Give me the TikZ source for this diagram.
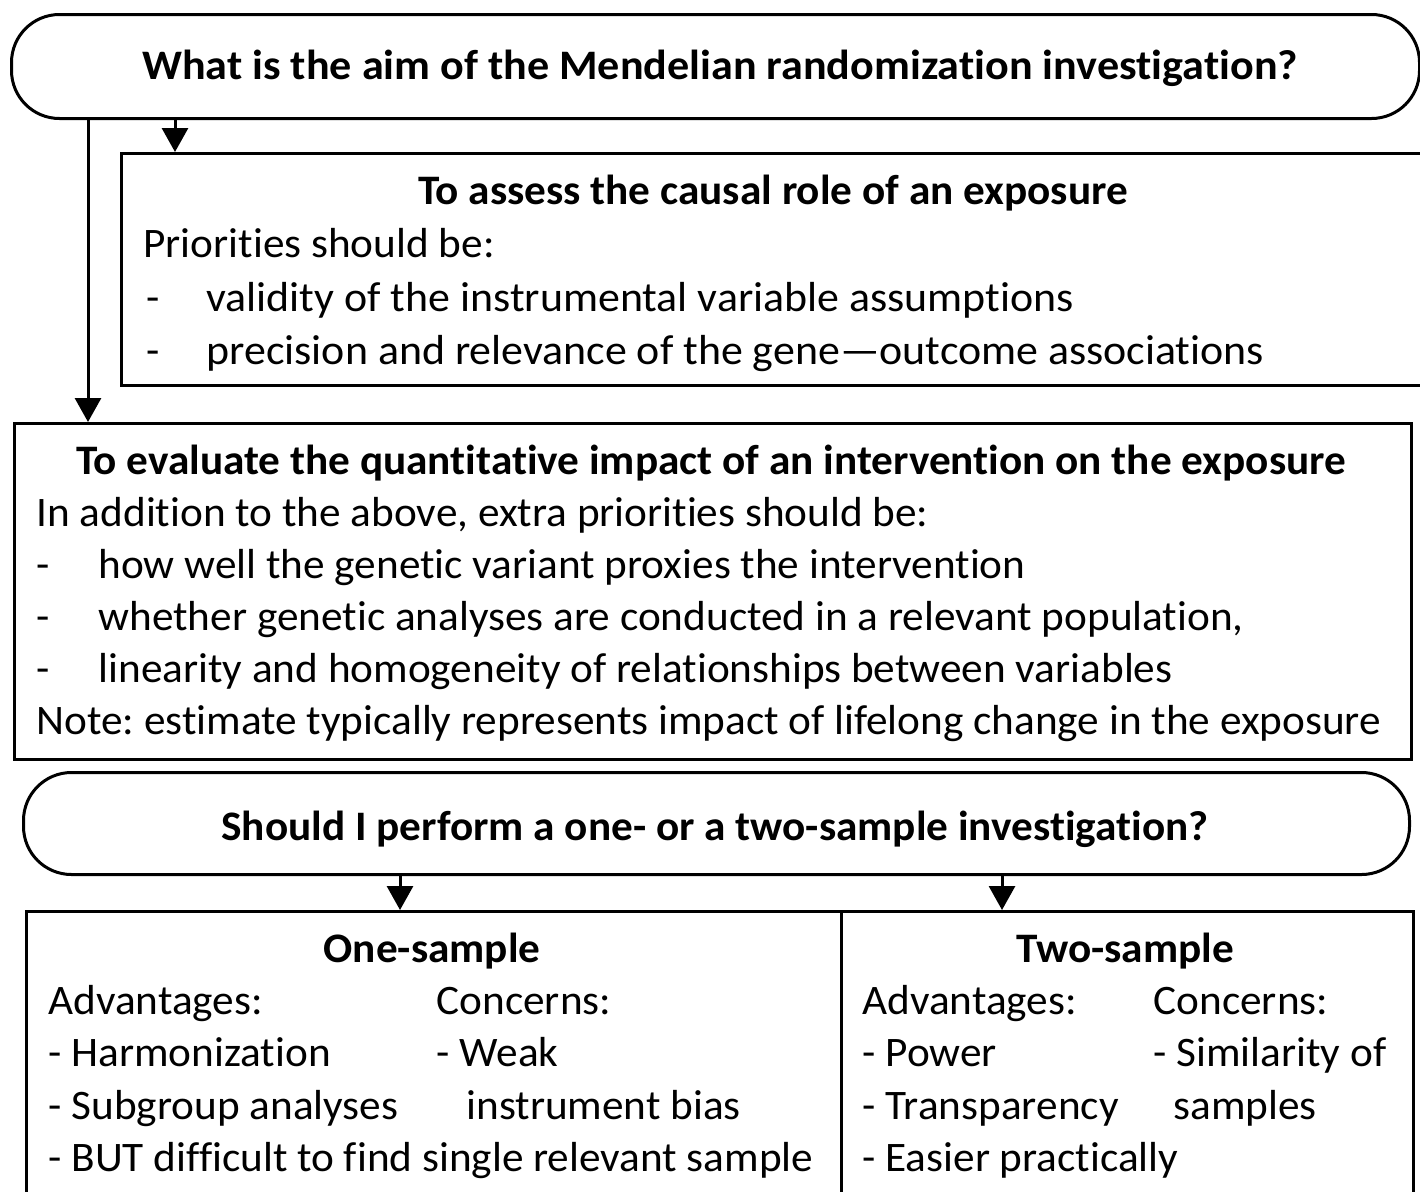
\documentclass[tikz,border=0pt]{standalone}
\usepackage{fontspec}
\setmainfont{Carlito}[Ligatures=NoCommon, FakeStretch=1.03]
\usetikzlibrary{arrows.meta}
\frenchspacing
\begin{document}
\begin{tikzpicture}[x=1pt,y=-1pt,
  line width=3pt,
  pill/.style={draw, rounded corners=48pt, inner sep=0pt, anchor=north west},
  panel/.style={draw, inner sep=0pt, anchor=north west},
  txt/.style={anchor=base west, inner sep=0pt, font=\fontsize{42}{52}\selectfont},
  ttl/.style={anchor=base, inner sep=0pt, font=\fontsize{42}{52}\selectfont\bfseries},
  arr/.style={-{Triangle[length=24pt,width=26pt]}, line width=3pt},
]
\useasboundingbox (0,0) rectangle (1420,1191);
\clip (0,0) rectangle (1420,1191);

% question boxes and panels
\node[pill, minimum width=1408pt, minimum height=104pt] (aim) at (10,13) {};
\node[panel, minimum width=1306pt, minimum height=232pt] (assess) at (120,152) {};
\node[panel, minimum width=1397pt, minimum height=336pt] (eval) at (13,422) {};
\node[pill, minimum width=1386pt, minimum height=102pt] (ask) at (22,771) {};
\node[panel, minimum width=815pt, minimum height=330pt] (one) at (25,910) {};
\node[panel, minimum width=572pt, minimum height=330pt] (two) at (840,910) {};

% connector columns
\coordinate (cA) at (88,0);
\coordinate (cB) at (175,0);
\coordinate (cC) at (400,0);
\coordinate (cD) at (1002,0);

\draw[arr] (aim.south -| cA) -- (eval.north -| cA);
\draw[arr] (aim.south -| cB) -- (assess.north -| cB);
\draw[arr] (ask.south -| cC) -- (one.north -| cC);
\draw[arr] (ask.south -| cD) -- (two.north -| cD);

% first question
\node[ttl] (q1) at (720,79) {\addfontfeatures{FakeStretch=1.05}What is the aim of the Mendelian randomization investigation?};

% causal role panel
\node[ttl] (h1) at (773,204) {To assess the causal role of an exposure};
\node[txt] (p1) at (142,257) {Priorities should be:};
\node[txt] (d1) at (145,311) {-};
\node[txt] (i1) at (205,311) {\addfontfeatures{FakeStretch=1.045}validity of the instrumental variable assumptions};
\node[txt] (d2) at (145,364) {-};
\node[txt] (i2) at (205,364) {\addfontfeatures{FakeStretch=1.045}precision and relevance of the gene\textemdash outcome associations};

% intervention panel
\node[ttl] (h2) at (711,474) {To evaluate the quantitative impact of an intervention on the exposure};
\node[txt] (p2) at (35,526) {In addition to the above, extra priorities should be:};
\node[txt] (d3) at (35,578) {-};
\node[txt] (i3) at (97,578) {how well the genetic variant proxies the intervention};
\node[txt] (d4) at (35,630) {-};
\node[txt] (i4) at (97,630) {whether genetic analyses are conducted in a relevant population,};
\node[txt] (d5) at (35,682) {-};
\node[txt] (i5) at (97,682) {linearity and homogeneity of relationships between variables};
\node[txt] (n1) at (35,734) {Note: estimate typically represents impact of lifelong change in the exposure};

% second question
\node[ttl] (q2) at (715,840) {Should I perform a one- or a two-sample investigation?};

% one-sample panel
\node[ttl] (h3) at (432,962) {One-sample};
\node[txt] (a1) at (47,1014) {Advantages:};
\node[txt] (c1) at (435,1014) {Concerns:};
\node[txt] (a2) at (47,1066) {- Harmonization};
\node[txt] (c2) at (435,1066) {- Weak};
\node[txt] (a3) at (47,1119) {- Subgroup analyses};
\node[txt] (c3) at (465,1119) {instrument bias};
\node[txt] (a4) at (47,1171) {- BUT difficult to find single relevant sample};

% two-sample panel
\node[ttl] (h4) at (1125,962) {Two-sample};
\node[txt] (b1) at (861,1014) {Advantages:};
\node[txt] (e1) at (1152,1014) {Concerns:};
\node[txt] (b2) at (861,1066) {- Power};
\node[txt] (e2) at (1152,1066) {- Similarity of};
\node[txt] (b3) at (861,1119) {- Transparency};
\node[txt] (e3) at (1172,1119) {samples};
\node[txt] (b4) at (861,1171) {- Easier practically};
\end{tikzpicture}
\end{document}
